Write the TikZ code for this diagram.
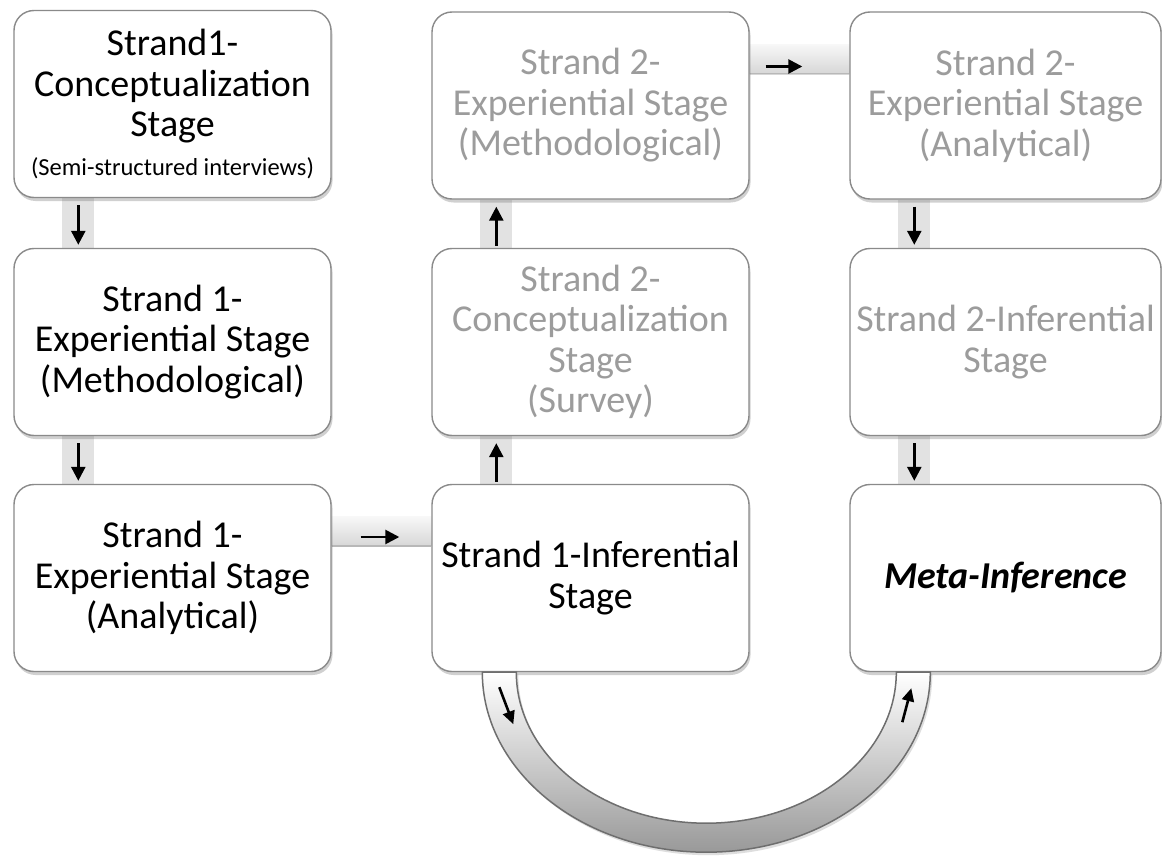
\documentclass[tikz,border=0pt]{standalone}
\usepackage{fontspec}
\setmainfont{Carlito}
\usetikzlibrary{shadows,arrows.meta,calc,backgrounds}
\definecolor{boxline}{HTML}{8A8A8A}
\definecolor{greytext}{HTML}{9C9C9C}
\definecolor{barfill}{HTML}{E2E2E2}
\definecolor{barline}{HTML}{B8B8B8}
\definecolor{arcline}{HTML}{6E6E6E}
\definecolor{arcdark}{HTML}{999999}
\begin{document}
\begin{tikzpicture}[x=1pt,y=-1pt,
  stagebox/.style={draw=boxline, line width=1.4pt, rounded corners=20pt, fill=white,
    minimum width=317pt, minimum height=187pt, align=center, inner sep=0pt,
    font=\fontsize{38}{40.5}\selectfont,
    drop shadow={shadow xshift=1.5pt, shadow yshift=-3.5pt, opacity=0.3, fill=black!60}},
  greystage/.style={stagebox, text=greytext},
  vbar/.style={fill=barfill},
  hbar/.style={top color=black!3, bottom color=black!16},
  flowarrow/.style={line width=2.6pt, -{Triangle[length=14pt,width=14pt]}},
  arcarrow/.style={line width=2.6pt, -{Triangle[length=13pt,width=12pt]}},
  arcband/.style={draw=arcline, line width=1.5pt, top color=white, bottom color=arcdark}
]
\useasboundingbox (0,0) rectangle (1162,856);
\begin{scope}[on background layer]
  \fill[white] (0,0) rectangle (1162,856);
\end{scope}

% boxes
\node[stagebox] (b11) at (172.5,104) {Strand1-\\Conceptualization\\Stage\\[-2pt]{\fontsize{24.5}{26}\selectfont (Semi-structured interviews)}};
\node[stagebox] (b21) at (172.5,342) {Strand 1-\\Experiential Stage\\(Methodological)};
\node[stagebox] (b31) at (172.5,578) {Strand 1-\\Experiential Stage\\(Analytical)};
\node[greystage] (b12) at (590.5,105.5) {Strand 2-\\Experiential Stage\\(Methodological)};
\node[greystage] (b22) at (590.5,342) {Strand 2-\\Conceptualization\\Stage\\(Survey)};
\node[stagebox] (b32) at (590.5,578) {Strand 1-Inferential\\Stage};
\node[greystage, minimum width=311pt] (b13) at (1005.5,105.5) {Strand 2-\\Experiential Stage\\(Analytical)};
\node[greystage, minimum width=311pt] (b23) at (1005.5,342) {Strand 2-Inferential\\Stage};
\node[stagebox, minimum width=311pt] (b33) at (1005.5,578) {\textbf{\textit{Meta-Inference}}};

% connector bars behind the boxes
\begin{scope}[on background layer]
  \fill[vbar] ($(b11.south west)+(49,0)$) rectangle ($(b21.north west)+(81,0)$);
  \fill[vbar] ($(b21.south west)+(49,0)$) rectangle ($(b31.north west)+(81,0)$);
  \fill[vbar] ($(b12.south west)+(49,0)$) rectangle ($(b22.north west)+(81,0)$);
  \fill[vbar] ($(b22.south west)+(49,0)$) rectangle ($(b32.north west)+(81,0)$);
  \fill[vbar] ($(b13.south west)+(49,0)$) rectangle ($(b23.north west)+(81,0)$);
  \fill[vbar] ($(b23.south west)+(49,0)$) rectangle ($(b33.north west)+(81,0)$);
  \shade[hbar] ($(b31.north east)+(0,33)$) rectangle ($(b32.north west)+(0,63)$);
  \draw[barline, line width=1.5pt] ($(b31.north east)+(0,62)$) -- ($(b32.north west)+(0,62)$);
  \shade[hbar] ($(b12.north east)+(0,33)$) rectangle ($(b13.north west)+(0,63)$);
  \draw[barline, line width=1.5pt] ($(b12.north east)+(0,62)$) -- ($(b13.north west)+(0,62)$);
\end{scope}

% arrows
\draw[flowarrow] ($(b11.south west)+(65,7)$) -- ($(b21.north west)+(65,-3)$);
\draw[flowarrow] ($(b21.south west)+(65,7)$) -- ($(b31.north west)+(65,-3)$);
\draw[flowarrow] ($(b32.north west)+(65,-2)$) -- ($(b22.south west)+(65,7)$);
\draw[flowarrow] ($(b22.north west)+(65,-2)$) -- ($(b12.south west)+(65,7)$);
\draw[flowarrow] ($(b13.south west)+(65,7)$) -- ($(b23.north west)+(65,-3)$);
\draw[flowarrow] ($(b23.south west)+(65,7)$) -- ($(b33.north west)+(65,-3)$);
\draw[flowarrow] ($(b31.east)+(29,-41)$) -- ($(b32.west)+(-32,-41)$);
\draw[flowarrow] ($(b12.east)+(16,-39)$) -- ($(b13.west)+(-47,-39)$);

% curved band from Strand 1-Inferential to Meta-Inference
\fill[black!25, opacity=0.5] ($(b32.south west)+(53,2)$) arc[start angle=180, end angle=0, x radius=224, y radius=181] -- ++(-34,0) arc[start angle=0, end angle=180, x radius=190, y radius=152] -- cycle;
\draw[arcband] ($(b32.south west)+(51,0)$) arc[start angle=180, end angle=0, x radius=224, y radius=180] -- ++(-34,0) arc[start angle=0, end angle=180, x radius=190, y radius=151] -- cycle;
\draw[arcarrow] ($(b32.south west)+(68,15)$) -- ($(b32.south west)+(82,52)$);
\draw[arcarrow] ($(b33.south west)+(53,50)$) -- ($(b33.south west)+(62,16)$);
\end{tikzpicture}
\end{document}
